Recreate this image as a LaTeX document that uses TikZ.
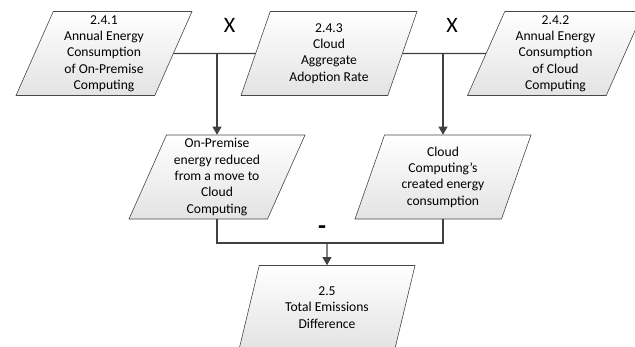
\documentclass[tikz,border=0pt]{standalone}
\usepackage{fontspec}
\setmainfont{Carlito}
\usetikzlibrary{shapes.geometric,arrows.meta}
\begin{document}
\begin{tikzpicture}[x=1pt,y=-1pt,
  pbox/.style={trapezium, trapezium left angle=64, trapezium right angle=116,
    trapezium stretches body, minimum width=176pt, minimum height=84pt,
    inner sep=0pt, draw=black!72, line width=0.6pt,
    top color=white, bottom color=black!11, align=center,
    font=\fontsize{13.6}{16.3}\selectfont},
  conn/.style={draw=black!75, line width=1.1pt},
  arr/.style={conn, -{Triangle[width=9pt,length=8pt]}},
  op/.style={font=\fontsize{22}{22}\selectfont, inner sep=0pt}]
\useasboundingbox (0,0) rectangle (635,346);

\node[pbox] (b1) at (104,53.5) {2.4.1\\Annual Energy\\Consumption\\of On-Premise\\Computing};
\node[pbox] (b3) at (329,53.5) {2.4.3\\Cloud\\Aggregate\\Adoption Rate};
\node[pbox] (b2) at (555.5,53.5) {2.4.2\\Annual Energy\\Consumption\\of Cloud\\Computing};
\node[pbox] (b4) at (217,177) {On-Premise\\energy reduced\\from a move to\\Cloud\\Computing};
\node[pbox] (b5) at (443,177) {Cloud\\Computing’s\\created energy\\consumption};
\node[pbox] (b6) at (327,307.5) {2.5\\Total Emissions\\Difference};

\node[op] (x1) at (229.5,25) {X};
\node[op] (x2) at (452,25) {X};
\node[font=\fontsize{26}{26}\selectfont\bfseries, inner sep=0pt] (m) at (322,230) {-};

\coordinate (j1) at (b4.north |- b1.east);
\coordinate (j2) at (b5.north |- b3.east);
\coordinate (j3) at (327,243);

\draw[conn] (b1.east) -- (b3.west);
\draw[conn] (b3.east) -- (b2.west);
\draw[arr] (j1) -- (b4.north);
\draw[arr] (j2) -- (b5.north);
\draw[conn] (b4.south) |- (j3) -| (b5.south);
\draw[arr] (j3) -- (b6.north);
\end{tikzpicture}
\end{document}
